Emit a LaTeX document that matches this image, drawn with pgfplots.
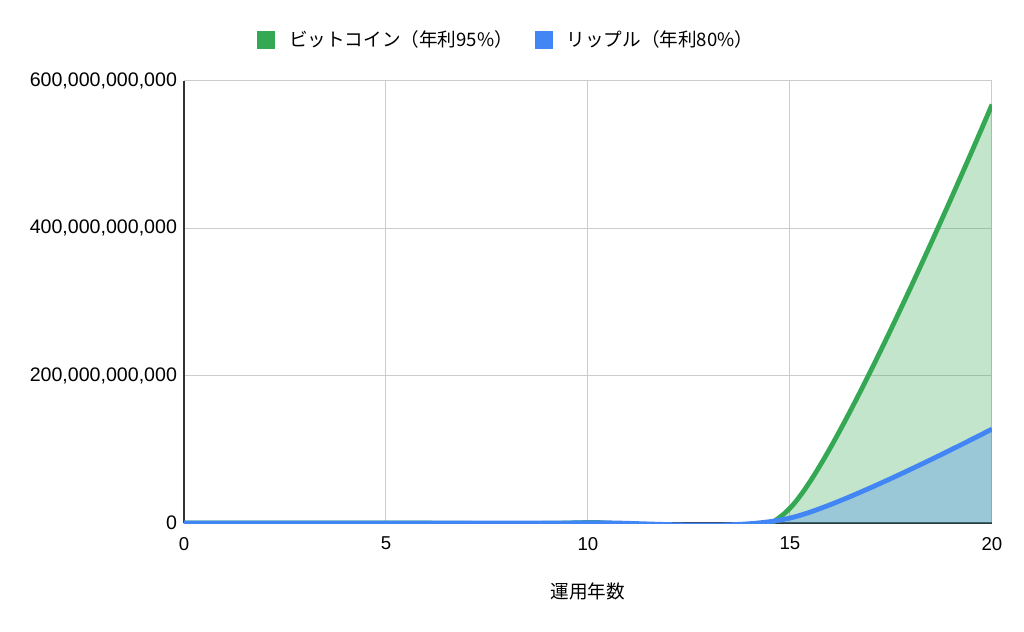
\documentclass[border=0pt]{standalone}
\usepackage{pgfplots}
\pgfplotsset{compat=1.18}
\usepackage{fontspec}
\setmainfont{Liberation Sans}
\newfontfamily\jp{Noto Sans CJK JP}

\definecolor{btc}{HTML}{34A853}
\definecolor{xrp}{HTML}{4285F4}
\definecolor{axisgray}{HTML}{333333}
\definecolor{gridgray}{HTML}{CCCCCC}

% values at 0, 5, 10, 15, 20 years
\pgfplotstableread{
x   y
0   900000
5   25400000
10  715000000
15  20200000000
20  568000000000
}\bitcoin
\pgfplotstableread{
x   y
0   1000000
5   18900000
10  357000000
15  6750000000
20  127500000000
}\ripple

\newcommand{\fs}{\fontsize{9.3}{11}\selectfont}

\begin{document}
\begin{tikzpicture}
\useasboundingbox (-92pt,-54.5pt) rectangle (420pt,261.5pt);
\begin{axis}[
  at={(0,0)}, anchor=south west,
  scale only axis,
  width=404pt, height=221pt,
  xmin=0, xmax=20, ymin=0, ymax=6e11,
  xtick={0,5,10,15,20},
  xticklabels={0,5,10,15,20},
  ytick={0,2e11,4e11,6e11},
  yticklabels={0,{200,000,000,000},{400,000,000,000},{600,000,000,000}},
  scaled y ticks=false,
  major tick length=0pt,
  tick label style={font=\fs, text=black},
  yticklabel style={font=\fontsize{9.8}{11}\selectfont},
  xticklabel style={yshift=-3.5pt},
  axis x line*=bottom, axis y line*=left,
  axis line style={axisgray, line width=0.75pt},
  grid=major,
  major grid style={gridgray, line width=0.5pt},
  xlabel={\jp 運用年数},
  xlabel style={font=\fs, at={(axis description cs:0.5,0)}, anchor=center, yshift=-34pt},
  legend columns=2,
  legend style={at={(0.0903,1.0928)}, anchor=west, draw=none, fill=none,
    font=\fs, inner sep=0pt, nodes={inner sep=0pt},
    /tikz/every odd column/.style={column sep=7pt},
    /tikz/every even column/.style={column sep=11pt}},
  legend image code/.code={\fill[#1] (0pt,-4.25pt) rectangle (8.5pt,4.25pt);},
  clip=true,
]
\addplot[draw=none, fill=btc, fill opacity=0.3, smooth, forget plot] table[x=x,y=y] {\bitcoin} \closedcycle;
\addplot[draw=none, fill=xrp, fill opacity=0.3, smooth, forget plot] table[x=x,y=y] {\ripple} \closedcycle;
\addplot[btc, line width=2.4pt, smooth, forget plot] table[x=x,y=y] {\bitcoin};
\addplot[xrp, line width=2.4pt, smooth, forget plot] table[x=x,y=y] {\ripple};
\addlegendimage{btc}
\addlegendentry{\jp ビットコイン（年利95\%）}
\addlegendimage{xrp}
\addlegendentry{\jp リップル（年利80\%）}
\end{axis}
\end{tikzpicture}
\end{document}
